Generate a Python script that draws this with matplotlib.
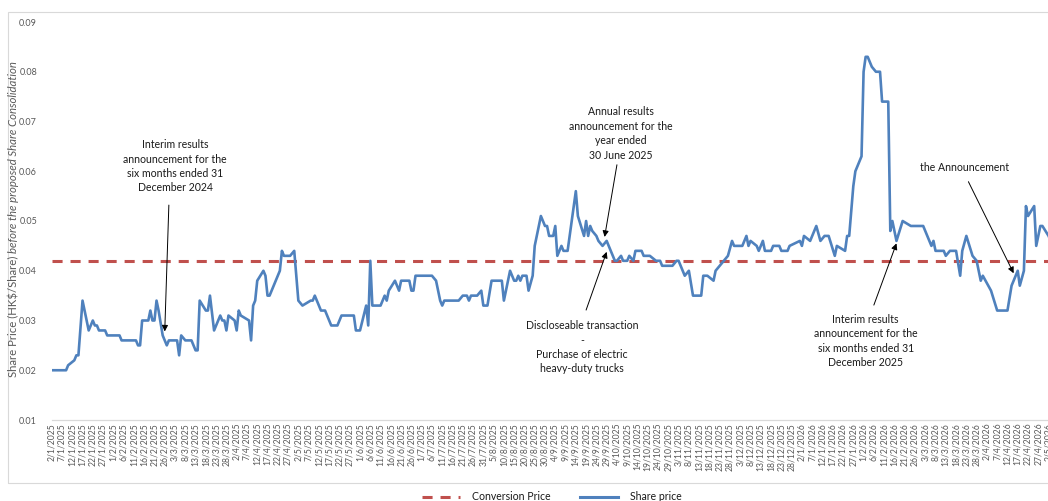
import matplotlib
matplotlib.use("Agg")
import matplotlib.pyplot as plt
import matplotlib.patches as mpatches
from matplotlib.lines import Line2D
import pandas as pd
import numpy as np

# ---------------- data ----------------
dates = [
    "2025-01-02", "2025-01-09", "2025-01-10", "2025-01-13", "2025-01-14", "2025-01-15", "2025-01-17",
    "2025-01-20", "2025-01-22", "2025-01-23", "2025-01-24", "2025-01-25", "2025-01-28", "2025-01-29",
    "2025-02-04", "2025-02-05", "2025-02-12", "2025-02-13", "2025-02-14", "2025-02-15", "2025-02-18",
    "2025-02-19", "2025-02-20", "2025-02-21", "2025-02-22", "2025-02-23", "2025-02-25", "2025-02-27",
    "2025-02-28", "2025-03-04", "2025-03-05", "2025-03-06", "2025-03-08", "2025-03-11", "2025-03-13",
    "2025-03-14", "2025-03-15", "2025-03-18", "2025-03-19", "2025-03-20", "2025-03-22", "2025-03-25",
    "2025-03-26", "2025-03-27", "2025-03-28", "2025-03-29", "2025-04-01", "2025-04-02", "2025-04-03",
    "2025-04-04", "2025-04-08", "2025-04-09", "2025-04-10", "2025-04-11", "2025-04-12", "2025-04-15",
    "2025-04-16", "2025-04-17", "2025-04-18", "2025-04-23", "2025-04-24", "2025-04-25", "2025-04-28",
    "2025-04-30", "2025-05-02", "2025-05-04", "2025-05-08", "2025-05-09", "2025-05-10", "2025-05-13",
    "2025-05-15", "2025-05-18", "2025-05-21", "2025-05-23", "2025-05-29", "2025-05-30", "2025-06-01",
    "2025-06-04", "2025-06-05", "2025-06-06", "2025-06-07", "2025-06-11", "2025-06-13", "2025-06-14",
    "2025-06-15", "2025-06-18", "2025-06-20", "2025-06-21", "2025-06-25", "2025-06-26", "2025-06-27",
    "2025-06-28", "2025-07-06", "2025-07-08", "2025-07-10", "2025-07-11", "2025-07-12", "2025-07-19",
    "2025-07-21", "2025-07-23", "2025-07-24", "2025-07-25", "2025-07-28", "2025-07-30", "2025-07-31",
    "2025-08-02", "2025-08-04", "2025-08-09", "2025-08-10", "2025-08-13", "2025-08-15", "2025-08-16",
    "2025-08-17", "2025-08-18", "2025-08-19", "2025-08-21", "2025-08-22", "2025-08-24", "2025-08-25",
    "2025-08-26", "2025-08-28", "2025-08-30", "2025-08-31", "2025-09-01", "2025-09-03", "2025-09-04",
    "2025-09-05", "2025-09-07", "2025-09-08", "2025-09-10", "2025-09-11", "2025-09-14", "2025-09-15",
    "2025-09-18", "2025-09-19", "2025-09-20", "2025-09-21", "2025-09-22", "2025-09-24", "2025-09-25",
    "2025-09-27", "2025-09-29", "2025-10-01", "2025-10-03", "2025-10-04", "2025-10-06", "2025-10-07",
    "2025-10-09", "2025-10-10", "2025-10-12", "2025-10-13", "2025-10-16", "2025-10-17", "2025-10-20",
    "2025-10-23", "2025-10-25", "2025-10-26", "2025-10-31", "2025-11-02", "2025-11-03", "2025-11-06",
    "2025-11-08", "2025-11-10", "2025-11-14", "2025-11-15", "2025-11-17", "2025-11-20", "2025-11-21",
    "2025-11-23", "2025-11-25", "2025-11-27", "2025-11-29", "2025-11-30", "2025-12-04", "2025-12-06",
    "2025-12-07", "2025-12-08", "2025-12-11", "2025-12-12", "2025-12-14", "2025-12-15", "2025-12-18",
    "2025-12-19", "2025-12-22", "2025-12-23", "2025-12-26", "2025-12-27",
    "2026-01-01", "2026-01-02", "2026-01-03", "2026-01-06", "2026-01-09", "2026-01-11", "2026-01-13",
    "2026-01-15", "2026-01-18", "2026-01-19", "2026-01-23", "2026-01-24", "2026-01-25", "2026-01-27",
    "2026-01-28", "2026-01-31", "2026-02-01", "2026-02-02", "2026-02-03", "2026-02-05", "2026-02-07",
    "2026-02-09", "2026-02-10", "2026-02-13", "2026-02-14", "2026-02-15", "2026-02-17", "2026-02-20",
    "2026-02-24", "2026-03-02", "2026-03-06", "2026-03-07", "2026-03-08", "2026-03-12", "2026-03-13",
    "2026-03-15", "2026-03-18", "2026-03-20", "2026-03-21", "2026-03-23", "2026-03-26", "2026-03-28",
    "2026-03-30", "2026-03-31", "2026-04-04", "2026-04-07", "2026-04-12", "2026-04-14", "2026-04-17",
    "2026-04-18", "2026-04-20", "2026-04-21", "2026-04-22", "2026-04-25", "2026-04-26", "2026-04-28",
    "2026-04-29", "2026-05-02", "2026-05-03",
]
share_price = [
    0.020, 0.020, 0.021, 0.022, 0.023, 0.023, 0.034,
    0.028, 0.030, 0.029, 0.029, 0.028, 0.028, 0.027,
    0.027, 0.026, 0.026, 0.025, 0.025, 0.030, 0.030,
    0.032, 0.030, 0.030, 0.034, 0.032, 0.027, 0.025,
    0.026, 0.026, 0.023, 0.027, 0.026, 0.026, 0.024,
    0.024, 0.034, 0.032, 0.032, 0.035, 0.028, 0.031,
    0.030, 0.030, 0.028, 0.031, 0.030, 0.028, 0.032,
    0.031, 0.030, 0.026, 0.033, 0.034, 0.038, 0.040,
    0.039, 0.035, 0.035, 0.040, 0.044, 0.043, 0.043,
    0.044, 0.034, 0.033, 0.034, 0.034, 0.035, 0.032,
    0.032, 0.029, 0.029, 0.031, 0.031, 0.028, 0.028,
    0.033, 0.029, 0.042, 0.033, 0.033, 0.035, 0.034,
    0.036, 0.038, 0.036, 0.038, 0.038, 0.036, 0.036,
    0.039, 0.039, 0.038, 0.034, 0.033, 0.034, 0.034,
    0.035, 0.035, 0.034, 0.035, 0.035, 0.036, 0.033,
    0.033, 0.038, 0.038, 0.034, 0.040, 0.038, 0.038,
    0.039, 0.038, 0.039, 0.039, 0.036, 0.039, 0.045,
    0.047, 0.051, 0.049, 0.049, 0.047, 0.047, 0.049,
    0.043, 0.045, 0.044, 0.044, 0.047, 0.056, 0.051,
    0.047, 0.050, 0.047, 0.049, 0.048, 0.047, 0.046,
    0.045, 0.046, 0.044, 0.042, 0.042, 0.043, 0.042,
    0.042, 0.043, 0.042, 0.044, 0.044, 0.043, 0.043,
    0.042, 0.042, 0.041, 0.041, 0.042, 0.042, 0.039,
    0.040, 0.035, 0.035, 0.039, 0.039, 0.038, 0.040,
    0.041, 0.042, 0.043, 0.046, 0.045, 0.045, 0.047,
    0.045, 0.046, 0.045, 0.044, 0.046, 0.044, 0.044,
    0.045, 0.045, 0.044, 0.044, 0.045,
    0.046, 0.045, 0.047, 0.046, 0.049, 0.046, 0.047,
    0.047, 0.043, 0.045, 0.044, 0.047, 0.047, 0.057,
    0.060, 0.063, 0.080, 0.083, 0.083, 0.081, 0.080,
    0.080, 0.074, 0.074, 0.048, 0.050, 0.046, 0.050,
    0.049, 0.049, 0.045, 0.046, 0.044, 0.044, 0.043,
    0.044, 0.044, 0.039, 0.044, 0.047, 0.043, 0.042,
    0.038, 0.039, 0.036, 0.032, 0.032, 0.037, 0.040,
    0.037, 0.040, 0.053, 0.051, 0.053, 0.045, 0.049,
    0.049, 0.047, 0.046,
]
conversion_price = 0.042
y_ticks = [0.01, 0.02, 0.03, 0.04, 0.05, 0.06, 0.07, 0.08, 0.09]
y_tick_labels = ["0.01", "0.02", "0.03", "0.04", "0.05", "0.06", "0.07", "0.08", "0.09"]
series_names = ["Conversion Price", "Share price"]
y_label_plain = "Share Price (HK$/Share) "
y_label_italic = "before the proposed Share Consolidation"

annotations = [
    # text, text centre (date, value), arrow tail (date, value), arrow tip (date, value)
    ("Interim results\nannouncement for the\nsix months ended 31\nDecember 2024",
     ("2025-03-03", 0.0610), ("2025-02-28", 0.0532), ("2025-02-26", 0.0278)),
    ("Annual results\nannouncement for the\nyear ended\n30 June 2025",
     ("2025-10-06", 0.0676), ("2025-10-04", 0.0613), ("2025-09-28", 0.0468)),
    ("Discloseable transaction\n-\nPurchase of electric\nheavy-duty trucks",
     ("2025-09-17", 0.0246), ("2025-09-19", 0.0321), ("2025-09-29", 0.0438)),
    ("Interim results\nannouncement for the\nsix months ended 31\nDecember 2025",
     ("2026-02-02", 0.0259), ("2026-02-06", 0.0331), ("2026-02-17", 0.0455)),
    ("the Announcement",
     ("2026-03-22", 0.0607), ("2026-03-24", 0.0579), ("2026-04-15", 0.0395)),
]

# ---------------- style ----------------
FONT = ["Lato", "DejaVu Sans"]
plt.rcParams["font.family"] = FONT
BLUE = "#4F81BD"
RED = "#C0504D"
GREY_TXT = "#595959"

W, H = 1048, 501
PX_PER_DAY = 2.0554
SPAN_DAYS = 490
fig = plt.figure(figsize=(W / 100, H / 100), dpi=100)

# chart-area border
fig.patches.append(mpatches.Rectangle((8 / W, 1 - 483 / H), 1.2, (483 - 12) / H,
                                      transform=fig.transFigure, fill=False,
                                      edgecolor="#d9d9d9", lw=0.8))

ax = fig.add_axes([51.7 / W, 1 - 420 / H, SPAN_DAYS * PX_PER_DAY / W, (420 - 22) / H])

x = pd.to_datetime(dates)
start = pd.Timestamp("2025-01-02")
ax.plot(x, share_price, color=BLUE, lw=1.9, solid_joinstyle="round", zorder=3)
ax.axhline(conversion_price, color=RED, lw=2.2, dashes=(3.3, 2.6), zorder=2)

ticks = pd.date_range("2025-01-02", "2026-05-06", freq="5D")
ax.set_xticks(ticks)
ax.set_xticklabels([f"{t.day}/{t.month}/{t.year}" for t in ticks], rotation=90,
                   fontsize=6.2, color=GREY_TXT)
ax.set_yticks(y_ticks)
ax.set_yticklabels(y_tick_labels, fontsize=6.5, color=GREY_TXT)
ax.set_xlim(start, start + pd.Timedelta(days=SPAN_DAYS))
ax.set_ylim(0.01, 0.09)
ax.tick_params(axis="x", length=0, pad=2)
ax.tick_params(axis="y", length=0, pad=10.5)
for s in ["left", "top", "right"]:
    ax.spines[s].set_visible(False)
ax.spines["bottom"].set_color("#d9d9d9")
ax.spines["bottom"].set_linewidth(0.9)
ax.set_facecolor("none")

for text, (tx, ty), (ax0, ay0), (ax1, ay1) in annotations:
    ax.text(pd.Timestamp(tx), ty, text, ha="center", va="center", fontsize=7.6,
            color="#1a1a1a", linespacing=1.38, zorder=5)
    ax.annotate("", xy=(pd.Timestamp(ax1), ay1), xytext=(pd.Timestamp(ax0), ay0),
                arrowprops=dict(arrowstyle="-|>", color="black", lw=0.7,
                                mutation_scale=9, shrinkA=0, shrinkB=0), zorder=6)

# y label (plain + italic parts)
t1 = fig.text(14 / W, 1 - 377 / H, y_label_plain, rotation=90, ha="center", va="bottom",
              fontsize=8.2, color=GREY_TXT)
fig.canvas.draw()
bb = t1.get_window_extent()
fig.text(14 / W, bb.y1 / H, y_label_italic, rotation=90, ha="center", va="bottom",
         fontsize=8.2, color=GREY_TXT, style="italic")

handles = [Line2D([], [], color=RED, lw=2.2, dashes=(3.3, 2.6)),
           Line2D([], [], color=BLUE, lw=2.2)]
fig.legend(handles, series_names, loc="center", bbox_to_anchor=(552 / W, 1 - 497 / H),
           ncol=2, frameon=False, fontsize=7.6, handlelength=3.6, handletextpad=1.1,
           columnspacing=2.8, labelcolor="#1a1a1a")

fig.savefig("out.png", dpi=100)
